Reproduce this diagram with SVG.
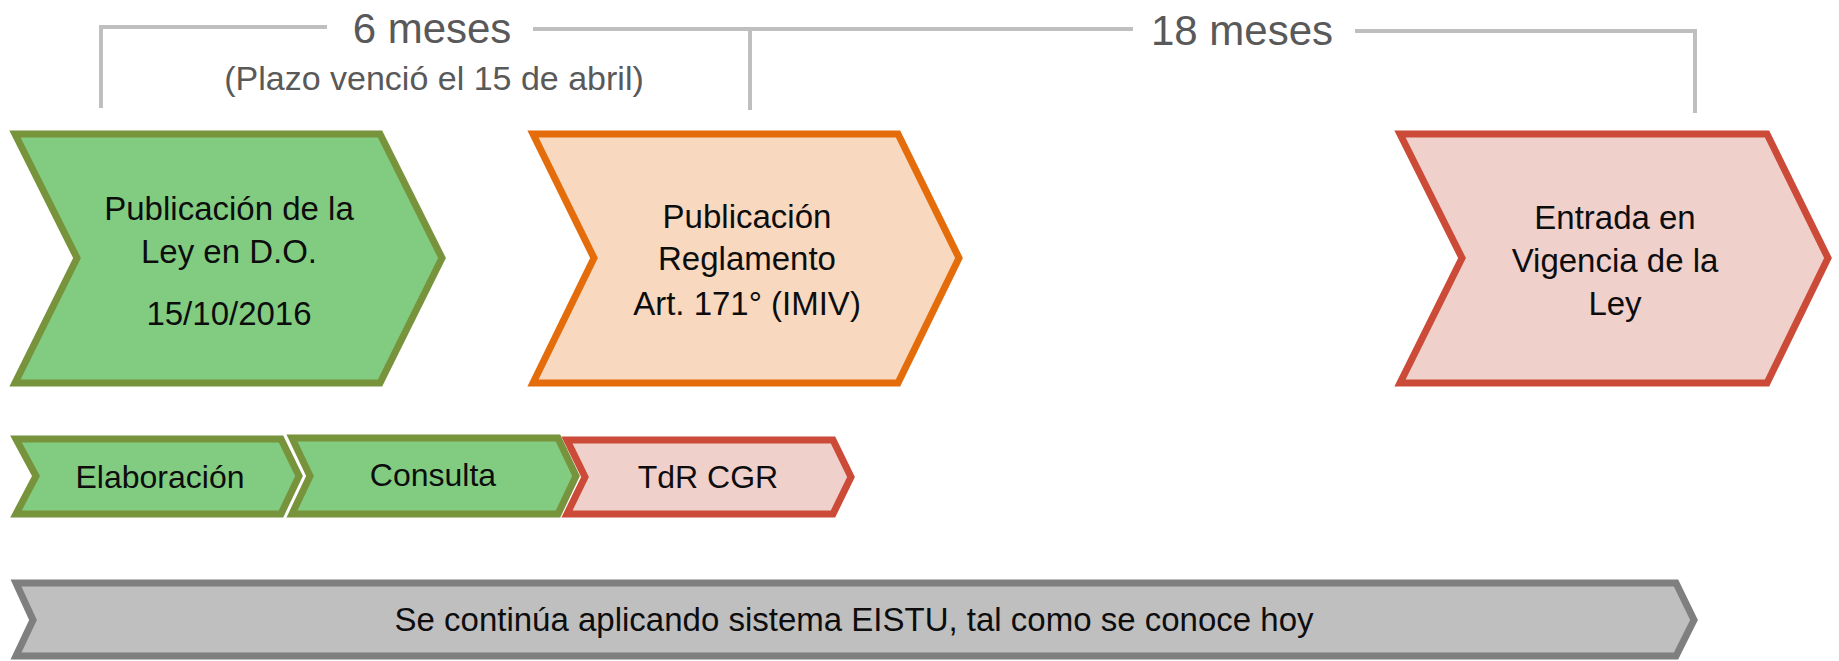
<svg xmlns="http://www.w3.org/2000/svg" width="1839" height="661" viewBox="0 0 1839 661">
<style>
.t{font-family:"Liberation Sans",Arial,sans-serif;font-size:33px;fill:#0d0d0d;text-anchor:middle}
.s{font-family:"Liberation Sans",Arial,sans-serif;font-size:32px;fill:#0d0d0d;text-anchor:middle}
.h{font-family:"Liberation Sans",Arial,sans-serif;fill:#595959;text-anchor:middle}
.g{fill:#82cc82;stroke:#77933c;stroke-width:7;stroke-linejoin:miter}
.o{fill:#f8d8bf;stroke:#e46c0a;stroke-width:7}
.r{fill:#f0d0cb;stroke:#cb4a38;stroke-width:7}
.gr{fill:#bfbfbf;stroke:#7f7f7f;stroke-width:7}
.ln{fill:none;stroke:#bfbfbf;stroke-width:4}
</style>
<g id="connectors">
<path class="ln" d="M101,108 V27 H327"/>
<path class="ln" d="M533,29 H1133"/>
<path class="ln" d="M750,29 V110"/>
<path class="ln" d="M1355,31 H1695 V113"/>
</g>
<g id="label-6meses"><text class="h" x="432" y="43" font-size="42">6 meses</text>
<text class="h" x="434" y="90" font-size="34">(Plazo venció el 15 de abril)</text></g>
<g id="label-18meses"><text class="h" x="1242" y="45" font-size="42">18 meses</text></g>
<g id="node-publicacion-ley">
<path class="g" d="M15,134 L380,134 L442,258 L380,383 L15,383 L77,258 Z"/>
<text class="t" x="229" y="220">Publicación de la</text>
<text class="t" x="229" y="263">Ley en D.O.</text>
<text class="t" x="229" y="325">15/10/2016</text>
</g>
<g id="node-reglamento">
<path class="o" d="M533,134 L898,134 L959,258 L898,383 L533,383 L594,258 Z"/>
<text class="t" x="747" y="228">Publicación</text>
<text class="t" x="747" y="270">Reglamento</text>
<text class="t" x="747" y="315">Art. 171° (IMIV)</text>
</g>
<g id="node-vigencia">
<path class="r" d="M1400,134 L1767,134 L1828,258 L1767,383 L1400,383 L1462,258 Z"/>
<text class="t" x="1615" y="229">Entrada en</text>
<text class="t" x="1615" y="272">Vigencia de la</text>
<text class="t" x="1615" y="315">Ley</text>
</g>
<g id="node-elaboracion">
<path class="g" d="M16,439 L281,439 L299,476 L281,514 L16,514 L36,476 Z"/>
<text class="s" x="160" y="488">Elaboración</text>
</g>
<g id="node-consulta">
<path class="g" d="M292,438 L558,438 L576,476 L558,514 L292,514 L310,476 Z"/>
<text class="s" x="433" y="486">Consulta</text>
</g>
<g id="node-tdr">
<path class="r" d="M567,440 L833,440 L851,477 L833,514 L567,514 L585,477 Z"/>
<text class="s" x="708" y="488" font-size="31">TdR CGR</text>
</g>
<g id="node-eistu">
<path class="gr" d="M16,583 L1676,583 L1694,620 L1676,656 L16,656 L33,620 Z"/>
<text class="t" x="854" y="631">Se continúa aplicando sistema EISTU, tal como se conoce hoy</text>
</g>
</svg>
